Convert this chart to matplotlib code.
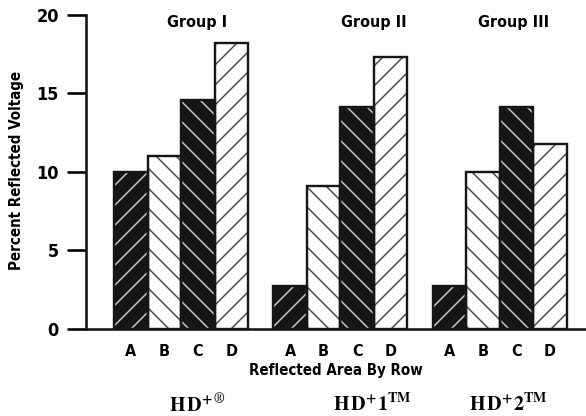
import numpy as np
import matplotlib
matplotlib.use("Agg")
import matplotlib.pyplot as plt
from matplotlib import font_manager
from matplotlib.font_manager import FontProperties

# data
groups = ["Group I", "Group II", "Group III"]
rows = ["A", "B", "C", "D"]
row_a = [10.0, 2.75, 2.75]
row_b = [11.0, 9.1, 10.0]
row_c = [14.6, 14.1, 14.1]
row_d = [18.2, 17.3, 11.8]

# dpi of 120 gives the wider hatch spacing of the original; sizes below are in pixels
DPI = 120
PT = 72.0 / DPI

# look for a condensed bold face, else fall back to Roboto / DejaVu
cond = None
for f in font_manager.fontManager.ttflist:
    low = f.fname.lower()
    if ("condensed" in low or "narrow" in low) and ("bold" in low) and "oblique" not in low and "italic" not in low:
        cond = f.fname
        break
names = [f.name for f in font_manager.fontManager.ttflist]
fallback = "Roboto" if "Roboto" in names else "DejaVu Sans"


def fp(px):
    if cond:
        return FontProperties(fname=cond, size=px * PT)
    return FontProperties(family=fallback, weight='bold', size=px * PT)


plt.rcParams['hatch.linewidth'] = 1.5 * PT
plt.rcParams['mathtext.fontset'] = 'stix'

fig = plt.figure(figsize=(586 / DPI, 416 / DPI), dpi=DPI)
ax = fig.add_axes([86/586, 87/416, 500/586, (329-14.7)/416])

# fill colour, hatch colour, hatch pattern for A..D
styles = [("#161616", "#c8c8c8", "//"),
          ("white", "#4a4a4a", "\\\\"),
          ("#161616", "#c8c8c8", "\\\\"),
          ("white", "#4a4a4a", "//")]

gap = 4.75
group_x = np.arange(len(groups)) * gap
values = [row_a, row_b, row_c, row_d]
tick_pos = []
tick_lab = []
for i, vals in enumerate(values):
    xs = group_x + i
    fill, hcol, hatch = styles[i]
    ax.bar(xs, vals, width=1.0, color=fill, edgecolor=hcol, hatch=hatch, linewidth=0, zorder=2)
    ax.bar(xs, vals, width=1.0, fill=False, edgecolor="#161616", linewidth=2.4 * PT, zorder=3)
    tick_pos += list(xs)
    tick_lab += [rows[i]] * len(groups)

ax.set_xlim(-1.34, 13.58)
ax.set_ylim(0, 20)
ax.set_yticks([0, 5, 10, 15, 20])
ax.set_yticklabels(["0", "5", "10", "15", "20"])
ax.tick_params(axis='y', length=19 * PT, width=2.6 * PT, pad=8 * PT)
for t in ax.get_yticklabels():
    t.set_fontproperties(fp(18))
ax.set_xticks(tick_pos)
ax.set_xticklabels(tick_lab)
for t in ax.get_xticklabels():
    t.set_fontproperties(fp(16))
ax.tick_params(axis='x', length=0, pad=15 * PT)

for s in ['top', 'right']:
    ax.spines[s].set_visible(False)
for s in ['left', 'bottom']:
    ax.spines[s].set_linewidth(2.6 * PT)
    ax.spines[s].set_color("#161616")

fig.text(17/586, 1 - 170/416, "Percent Reflected Voltage", rotation=90, ha='center', va='center',
         fontproperties=fp(15))

# group titles and product names
title_x = [197, 374, 514]
prod_x = [197, 372, 508]
for g, tx in zip(groups, title_x):
    fig.text(tx/586, 1 - 22/416, g, ha='center', va='center', fontproperties=fp(16))
prod_tex = [r"$\mathbf{H\,D^{+}}^{\circledR}$", r"$\mathbf{H\,D^{+}1^{TM}}$", r"$\mathbf{H\,D^{+}2^{TM}}$"]
for p, px in zip(prod_tex, prod_x):
    fig.text(px/586, 1 - 404/416, p, ha='center', va='center', fontsize=20 * PT)

fig.text(336/586, 1 - 371/416, "Reflected Area By Row", ha='center', va='center', fontproperties=fp(15))

fig.savefig("out.png", dpi=DPI)
